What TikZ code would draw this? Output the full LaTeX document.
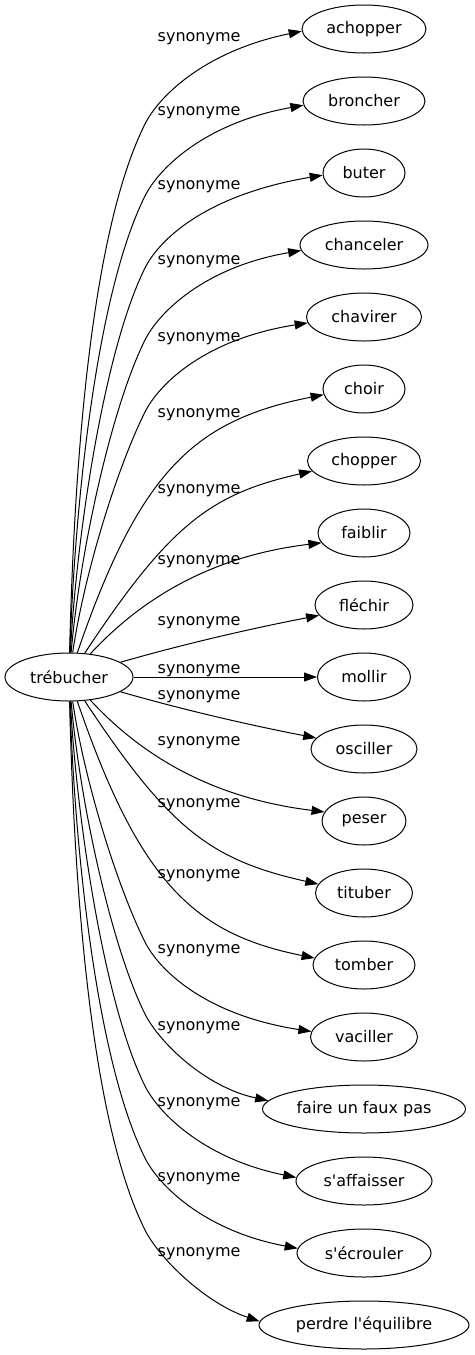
\documentclass[tikz,border=0pt]{standalone}
\usepackage{fontspec}
\newfontfamily\dejavu{DejaVu Sans}
\usetikzlibrary{shapes.geometric,arrows.meta}
\begin{document}
\begin{tikzpicture}[x=1pt,y=-1pt,
  syn/.style={draw, ellipse, line width=1pt, minimum height=48pt, inner sep=0pt, font=\dejavu\fontsize{16}{19}\selectfont},
  lab/.style={inner sep=0pt, anchor=base west, font=\dejavu\fontsize{16}{19}\selectfont},
  edge/.style={line width=1pt, -{Triangle[length=13pt,width=9pt]}}]
\useasboundingbox (0,0) rectangle (474,1355);
\node[syn, minimum width=128pt] (t) at (69,677) {trébucher};
\node[syn, minimum width=124pt] (n1) at (364,29) {achopper};
\node[syn, minimum width=122pt] (n2) at (364,101) {broncher};
\node[syn, minimum width=82pt] (n3) at (364,173) {buter};
\node[syn, minimum width=128pt] (n4) at (364,245) {chanceler};
\node[syn, minimum width=115pt] (n5) at (364,317) {chavirer};
\node[syn, minimum width=82pt] (n6) at (364,389) {choir};
\node[syn, minimum width=113pt] (n7) at (364,461) {chopper};
\node[syn, minimum width=92pt] (n8) at (364,533) {faiblir};
\node[syn, minimum width=98pt] (n9) at (364,605) {fléchir};
\node[syn, minimum width=93pt] (n10) at (364,677) {mollir};
\node[syn, minimum width=106pt] (n11) at (364,749) {osciller};
\node[syn, minimum width=84pt] (n12) at (364,821) {peser};
\node[syn, minimum width=97pt] (n13) at (364,893) {tituber};
\node[syn, minimum width=102pt] (n14) at (364,965) {tomber};
\node[syn, minimum width=107pt] (n15) at (364,1037) {vaciller};
\node[syn, minimum width=203pt] (n16) at (364,1109) {faire un faux pas};
\node[syn, minimum width=136pt] (n17) at (364,1181) {s'affaisser};
\node[syn, minimum width=134pt] (n18) at (364,1253) {s'écrouler};
\node[syn, minimum width=210pt] (n19) at (364,1325) {perdre l'équilibre};
% edges (upper)
\draw[edge] (t) .. controls (74,470) and (90,234) .. (145,124) .. controls (159,96) and (205,51) .. (n1.182);
\draw[edge] (t) .. controls (75,500) and (97,292) .. (145,196) .. controls (159,168) and (205,123) .. (n2.184);
\draw[edge] (t) .. controls (77,530) and (105,348) .. (145,268) .. controls (159,240) and (205,195) .. (n3.183);
\draw[edge] (t) .. controls (80,550) and (112,406) .. (145,340) .. controls (159,312) and (205,267) .. (n4.185);
\draw[edge] (t) .. controls (85,570) and (118,466) .. (145,412) .. controls (159,384) and (205,339) .. (n5.186);
\draw[edge] (t) .. controls (140,470) and (195,420) .. (n6.188);
\draw[edge] (t) .. controls (170,524) and (211,494) .. (n7.191);
\draw[edge] (t) .. controls (140,600) and (210,556) .. (n8.193);
\draw[edge] (t) .. controls (184,644) and (249,629) .. (n9.193);
\draw[edge] (t) -- (n10);
% edges (lower)
\draw[edge] (t) .. controls (184,710) and (249,725) .. (n11.167);
\draw[edge] (t) .. controls (140,754) and (210,798) .. (n12.167);
\draw[edge] (t) .. controls (170,830) and (211,860) .. (n13.169);
\draw[edge] (t) .. controls (140,884) and (195,934) .. (n14.172);
\draw[edge] (t) .. controls (85,784) and (118,888) .. (145,942) .. controls (159,970) and (205,1015) .. (n15.174);
\draw[edge] (t) .. controls (80,804) and (112,948) .. (145,1014) .. controls (159,1042) and (205,1087) .. (n16.175);
\draw[edge] (t) .. controls (77,824) and (105,1006) .. (145,1086) .. controls (159,1114) and (205,1159) .. (n17.177);
\draw[edge] (t) .. controls (75,854) and (97,1062) .. (145,1158) .. controls (159,1186) and (205,1231) .. (n18.176);
\draw[edge] (t) .. controls (74,884) and (90,1120) .. (145,1230) .. controls (159,1258) and (205,1303) .. (n19.178);
% labels
\foreach \i/\y in {1/41.5,2/115,3/189,4/264,5/341,6/417,7/493,8/564,9/625,10/673,11/699,12/745,13/807,14/878,15/953,16/1030,17/1106,18/1181,19/1256}
  \node[lab] (l\i) at (157.5,\y) {synonyme};
\end{tikzpicture}
\end{document}
